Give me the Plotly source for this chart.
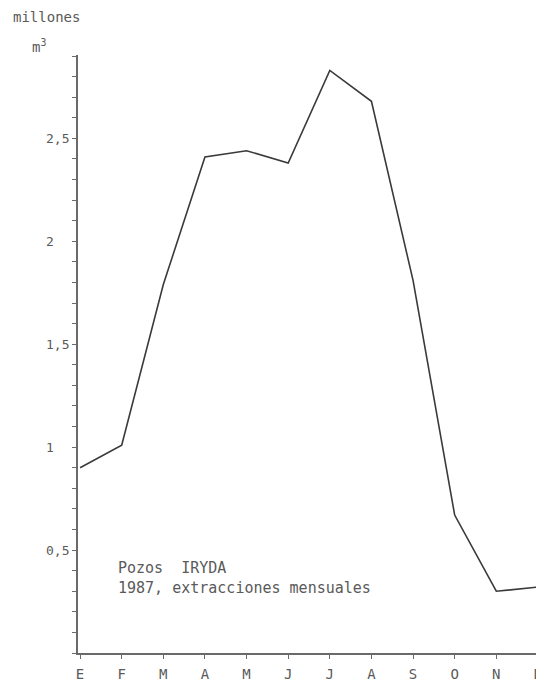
import plotly.graph_objects as go

# Data (millones de m3, extracciones mensuales 1987, pozos IRYDA)
month_labels = ["E", "F", "M", "A", "M", "J", "J", "A", "S", "O", "N", "D"]
month_index = list(range(len(month_labels)))
extracciones = [0.90, 1.01, 1.79, 2.41, 2.44, 2.38, 2.83, 2.68, 1.81, 0.67, 0.30, 0.32]

y_tick_vals = [0.5, 1, 1.5, 2, 2.5]
y_tick_text = ["0,5", "1", "1,5", "2", "2,5"]

TXT = "#5a5a5a"
FONT = "DejaVu Sans Mono"

fig = go.Figure()
fig.add_trace(go.Scatter(
    x=month_index, y=extracciones, mode="lines",
    line=dict(color="#3a3a3a", width=1.6),
    hoverinfo="skip", showlegend=False,
))

# Left-aligned y labels (as in the hand lettered original)
for v, t in zip(y_tick_vals, y_tick_text):
    fig.add_annotation(x=-0.073, xref="paper", y=v, yref="y", text=t,
                       showarrow=False, xanchor="left", yanchor="middle",
                       font=dict(family=FONT, size=13, color=TXT))

fig.add_annotation(x=-0.146, xref="paper", y=1.063, yref="paper", text="millones",
                   showarrow=False, xanchor="left", yanchor="middle",
                   font=dict(family=FONT, size=14, color=TXT))
fig.add_annotation(x=-0.104, xref="paper", y=1.015, yref="paper", text="m<sup>3</sup>",
                   showarrow=False, xanchor="left", yanchor="middle",
                   font=dict(family=FONT, size=14, color=TXT))

fig.add_annotation(x=0.083, xref="paper", y=0.142, yref="paper", text="Pozos\u00a0\u00a0IRYDA",
                   showarrow=False, xanchor="left", yanchor="middle",
                   font=dict(family=FONT, size=15, color=TXT))
fig.add_annotation(x=0.083, xref="paper", y=0.108, yref="paper",
                   text="1987,\u00a0extracciones\u00a0mensuales",
                   showarrow=False, xanchor="left", yanchor="middle",
                   font=dict(family=FONT, size=15, color=TXT))

fig.update_layout(
    width=536, height=676,
    margin=dict(l=70, r=2, t=47, b=26),
    paper_bgcolor="white", plot_bgcolor="white",
    xaxis=dict(
        range=[-0.05, 11.05], tickmode="array", tickvals=month_index, ticktext=month_labels,
        showgrid=False, zeroline=False, showline=True, linecolor="#6a6a6a", linewidth=1.5,
        ticks="outside", ticklen=4, tickcolor="#6a6a6a", tickwidth=1.2,
        tickfont=dict(family=FONT, size=14, color=TXT), ticklabelstandoff=3,
        ticklabeloverflow="allow",
    ),
    yaxis=dict(
        range=[0, 2.905], tickmode="linear", tick0=0, dtick=0.1,
        showticklabels=False, showgrid=False, zeroline=False,
        showline=True, linecolor="#6a6a6a", linewidth=1.5,
        ticks="outside", ticklen=4, tickcolor="#6a6a6a", tickwidth=1.2,
    ),
)

fig.write_html("out.html")
